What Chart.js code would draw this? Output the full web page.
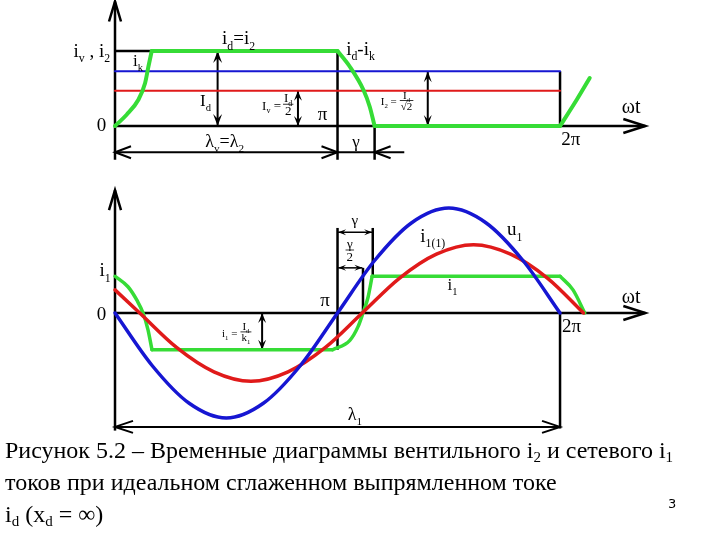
<!DOCTYPE html>
<html>
<head>
<meta charset="utf-8">
<script src="https://cdn.jsdelivr.net/npm/chart.js@4.4.1/dist/chart.umd.min.js"></script>
<style>
  body { margin: 0; background: #fff; width: 720px; height: 540px; overflow: hidden; position: relative; }
  #chart { position: absolute; left: 0; top: 0; }
  .caption { position: absolute; left: 5px; top: 434px; font-family: "Liberation Serif", serif; font-size: 24px; line-height: 32px; color: #000; white-space: nowrap; }
  .caption sub { font-size: 15px; vertical-align: -4px; line-height: 0; }
  .page { position: absolute; left: 668px; top: 496px; font-family: "DejaVu Sans", sans-serif; font-size: 13px; }
</style>
</head>
<body>
<canvas id="chart" width="720" height="540"></canvas>
<div class="caption">Рисунок 5.2 – Временные диаграммы вентильного i<sub>2</sub> и сетевого i<sub>1</sub><br>токов при идеальном сглаженном выпрямленном токе<br>i<sub>d</sub> (x<sub>d</sub> = ∞)</div>
<div class="page">3</div>
<script>
// x is the angle ωt in electrical degrees (0..360 = 0..2π)
// upper plot: values relative to Id, lower plot: relative to the amplitude of u1

// upper plot - valve current i2 (green)
const i2RiseX = [0, 9.4, 18.9, 24.3, 27, 29.7];
const i2RiseY = [0, 0.15, 0.35, 0.57, 0.79, 1.0];
const i2FallX = [180, 190, 201, 206, 210];
const i2FallY = [1.0, 0.79, 0.48, 0.26, 0];
const i2NextX = [360, 373.5, 384];
const i2NextY = [0, 0.35, 0.64];
const i2TopX = [29.7, 180];
const i2TopY = [1.0, 1.0];
const i2ZeroX = [210, 360];
const i2ZeroY = [0, 0];
// rms and average levels
const levelX = [0, 360];
const i2RmsY = [0.73, 0.73];
const ivAvgY = [0.47, 0.47];

// lower plot - supply voltage u1 (blue)
const u1X = [0, 30, 60, 90, 120, 150, 180, 210, 240, 270, 300, 330, 360];
const u1Y = [0, -0.5, -0.86, -1.0, -0.86, -0.5, 0, 0.5, 0.86, 1.0, 0.86, 0.5, 0];
// fundamental i1(1) (red)
const i11X = [0, 20, 50, 80, 110, 140, 170, 200, 230, 260, 290, 320, 350, 379];
const i11Y = [0.22, 0, -0.33, -0.56, -0.65, -0.56, -0.33, 0, 0.33, 0.56, 0.65, 0.56, 0.33, 0];
// supply current i1 (green)
const i1FallX = [0, 10.5, 17.8, 22.7, 26.7, 29.9];
const i1FallY = [0.35, 0.25, 0.12, 0, -0.16, -0.35];
const i1LowX = [29.9, 176];
const i1LowY = [-0.35, -0.35];
const i1RiseX = [176, 190, 196.6, 200.6, 204.7, 208];
const i1RiseY = [-0.35, -0.26, -0.13, 0, 0.15, 0.35];
const i1HighX = [208, 360];
const i1HighY = [0.35, 0.35];
const i1EndX = [360, 370.5, 380];
const i1EndY = [0.35, 0.22, 0];

const GREEN = '#36dc36';
const BLUE = '#1616d2';
const RED = '#e01a1a';
const FONT = '"Liberation Serif", serif';

function pts(xs, ys) {
    return xs.map((x, i) => ({ x: x, y: ys[i] }));
}

function series(xs, ys, axis, color, width, curved) {
    return {
        data: pts(xs, ys),
        yAxisID: axis,
        borderColor: color,
        borderWidth: width,
        pointRadius: 0,
        fill: false,
        clip: false,
        cubicInterpolationMode: curved ? 'monotone' : 'default',
        tension: 0,
        borderCapStyle: 'round',
        borderJoinStyle: 'round'
    };
}

// ---- drawing helpers for axes, arrows and labels ----
function at(chart, axis, x, v) {
    return [chart.scales.x.getPixelForValue(x), chart.scales[axis].getPixelForValue(v)];
}

function seg(ctx, a, b, w) {
    ctx.lineWidth = w;
    ctx.beginPath();
    ctx.moveTo(a[0], a[1]);
    ctx.lineTo(b[0], b[1]);
    ctx.stroke();
}

function openHead(ctx, tip, ang, len, half, w) {
    ctx.lineWidth = w;
    ctx.beginPath();
    ctx.moveTo(tip[0] - len * Math.cos(ang) + half * Math.sin(ang), tip[1] - len * Math.sin(ang) - half * Math.cos(ang));
    ctx.lineTo(tip[0], tip[1]);
    ctx.lineTo(tip[0] - len * Math.cos(ang) - half * Math.sin(ang), tip[1] - len * Math.sin(ang) + half * Math.cos(ang));
    ctx.stroke();
}

function solidHead(ctx, tip, ang, len, half) {
    ctx.beginPath();
    ctx.moveTo(tip[0], tip[1]);
    ctx.lineTo(tip[0] - len * Math.cos(ang) + half * Math.sin(ang), tip[1] - len * Math.sin(ang) - half * Math.cos(ang));
    ctx.lineTo(tip[0] - len * 0.6 * Math.cos(ang), tip[1] - len * 0.6 * Math.sin(ang));
    ctx.lineTo(tip[0] - len * Math.cos(ang) - half * Math.sin(ang), tip[1] - len * Math.sin(ang) + half * Math.cos(ang));
    ctx.closePath();
    ctx.fill();
}

function doubleArrow(ctx, a, b, w, len, half) {
    seg(ctx, a, b, w);
    const ang = Math.atan2(b[1] - a[1], b[0] - a[0]);
    solidHead(ctx, b, ang, len, half);
    solidHead(ctx, a, ang + Math.PI, len, half);
}

function measure(ctx, parts, size) {
    let w = 0;
    parts.forEach(p => {
        const sub = typeof p !== 'string';
        ctx.font = (sub ? size * 0.62 : size) + 'px ' + FONT;
        w += ctx.measureText(sub ? p.sub : p).width;
    });
    return w;
}

function rich(ctx, x, y, parts, size, align) {
    const w = measure(ctx, parts, size);
    let cx = align === 'right' ? x - w : align === 'center' ? x - w / 2 : x;
    ctx.textAlign = 'left';
    ctx.textBaseline = 'alphabetic';
    parts.forEach(p => {
        const sub = typeof p !== 'string';
        const text = sub ? p.sub : p;
        ctx.font = (sub ? size * 0.62 : size) + 'px ' + FONT;
        ctx.fillText(text, cx, y + (sub ? size * 0.28 : 0));
        cx += ctx.measureText(text).width;
    });
    return w;
}

function frac(ctx, x, y, num, den, size) {
    const wn = measure(ctx, num, size);
    const wd = measure(ctx, den, size);
    const w = Math.max(wn, wd) + 2;
    rich(ctx, x + w / 2, y - 2, num, size, 'center');
    rich(ctx, x + w / 2, y + size * 0.85, den, size, 'center');
    ctx.lineWidth = 0.8;
    seg(ctx, [x, y], [x + w, y], 0.8);
    return w;
}

function lbl(chart, axis, x, v, parts, size, align) {
    const p = at(chart, axis, x, v);
    chart.ctx.fillStyle = '#000';
    return rich(chart.ctx, p[0], p[1], parts, size, align || 'left');
}

function drawGuides(chart) {
    const ctx = chart.ctx;
    ctx.save();
    ctx.strokeStyle = '#000';
    ctx.fillStyle = '#000';
    ctx.lineCap = 'butt';
    const T = (x, v) => at(chart, 'yt', x, v);
    const B = (x, v) => at(chart, 'yb', x, v);

    // upper plot axes
    seg(ctx, T(0, -0.45), T(0, 1.66), 2.5);
    openHead(ctx, T(0, 1.66), -Math.PI / 2, 20, 6, 2.5);
    seg(ctx, T(0, 0), T(429, 0), 2.5);
    openHead(ctx, T(429, 0), 0, 22, 7, 2.5);
    seg(ctx, T(0, 1.0), T(30, 1.0), 2.5);
    // commutation markers
    seg(ctx, T(180, 1.0), T(180, -0.45), 2.5);
    seg(ctx, T(210, 0), T(210, -0.45), 2.5);
    seg(ctx, T(360, 0.73), T(360, 0), 2.5);
    // λv = λ2 and γ dimensions
    seg(ctx, T(0, -0.35), T(234, -0.35), 2);
    openHead(ctx, T(0, -0.35), Math.PI, 16, 6, 2);
    openHead(ctx, T(180, -0.35), 0, 16, 6, 2);
    openHead(ctx, T(210, -0.35), Math.PI, 16, 6, 2);
    // level arrows
    doubleArrow(ctx, T(83, 0.0), T(83, 1.0), 2, 12, 4.5);
    doubleArrow(ctx, T(148, 0.0), T(148, 0.47), 2, 10, 4);
    doubleArrow(ctx, T(253, 0.0), T(253, 0.73), 2, 11, 4);

    // lower plot axes
    seg(ctx, B(0, -1.12), B(0, 1.17), 2.5);
    openHead(ctx, B(0, 1.17), -Math.PI / 2, 20, 6, 2.5);
    seg(ctx, B(0, 0), B(429, 0), 2.5);
    openHead(ctx, B(429, 0), 0, 22, 7, 2.5);
    // γ and γ/2 markers
    seg(ctx, B(180, 0.81), B(180, -0.35), 2.5);
    seg(ctx, B(208.5, 0.81), B(208.5, 0.35), 2.5);
    seg(ctx, B(200.6, 0.43), B(200.6, 0), 2.5);
    doubleArrow(ctx, B(180.5, 0.77), B(208, 0.77), 1.5, 8, 3);
    doubleArrow(ctx, B(180.5, 0.43), B(200.1, 0.43), 1.5, 8, 3);
    // i1 = Id/k1
    doubleArrow(ctx, B(119, 0), B(119, -0.35), 2, 10, 4);
    // 2π and λ1
    seg(ctx, B(360, 0), B(360, -1.1), 2.5);
    seg(ctx, B(0, -1.085), B(360, -1.085), 2);
    openHead(ctx, B(0, -1.085), Math.PI, 18, 6, 2);
    openHead(ctx, B(360, -1.085), 0, 18, 6, 2);
    ctx.restore();
}

function drawLabels(chart) {
    const ctx = chart.ctx;
    ctx.save();
    ctx.fillStyle = '#000';
    ctx.strokeStyle = '#000';

    // upper plot
    lbl(chart, 'yt', -4, 0.92, ['i', { sub: 'v' }, ' , i', { sub: '2' }], 19, 'right');
    lbl(chart, 'yt', 86.6, 1.09, ['i', { sub: 'd' }, '=i', { sub: '2' }], 19);
    lbl(chart, 'yt', 14.6, 0.8, ['i', { sub: 'k' }], 17);
    lbl(chart, 'yt', 68.8, 0.27, ['I', { sub: 'd' }], 17);
    let w = lbl(chart, 'yt', 119, 0.22, ['I', { sub: 'v' }, ' ='], 13);
    let p = at(chart, 'yt', 119, 0.29);
    frac(ctx, p[0] + w + 2, p[1], ['I', { sub: 'd' }], ['2'], 13);
    lbl(chart, 'yt', 164, 0.08, ['π'], 19);
    lbl(chart, 'yt', 187, 0.95, ['i', { sub: 'd' }, '-i', { sub: 'k' }], 19);
    w = lbl(chart, 'yt', 215, 0.28, ['I', { sub: '2' }, ' ='], 11);
    p = at(chart, 'yt', 215, 0.34);
    frac(ctx, p[0] + w + 3, p[1], ['I', { sub: 'd' }], ['√2'], 11);
    lbl(chart, 'yt', 410, 0.17, ['ωt'], 20);
    lbl(chart, 'yt', 361, -0.25, ['2π'], 19);
    lbl(chart, 'yt', 73, -0.28, ['λ', { sub: 'v' }, '=λ', { sub: '2' }], 18);
    lbl(chart, 'yt', 192, -0.28, ['γ'], 17);
    lbl(chart, 'yt', -7, -0.07, ['0'], 19, 'right');

    // lower plot
    lbl(chart, 'yb', -3.5, 0.35, ['i', { sub: '1' }], 19, 'right');
    lbl(chart, 'yb', -7, -0.07, ['0'], 19, 'right');
    lbl(chart, 'yb', 166, 0.07, ['π'], 19);
    lbl(chart, 'yb', 361.6, -0.18, ['2π'], 19);
    lbl(chart, 'yb', 410, 0.1, ['ωt'], 20);
    lbl(chart, 'yb', 317, 0.74, ['u', { sub: '1' }], 19);
    lbl(chart, 'yb', 247, 0.68, ['i', { sub: '1(1)' }], 19);
    lbl(chart, 'yb', 269, 0.22, ['i', { sub: '1' }], 17);
    w = lbl(chart, 'yb', 86.6, -0.23, ['i', { sub: '1' }, ' ='], 11);
    p = at(chart, 'yb', 86.6, -0.18);
    frac(ctx, p[0] + w + 3, p[1], ['I', { sub: 'd' }], ['k', { sub: '1' }], 11);
    lbl(chart, 'yb', 194, 0.84, ['γ'], 15, 'center');
    p = at(chart, 'yb', 186.5, 0.6);
    frac(ctx, p[0], p[1], ['γ'], ['2'], 13);
    lbl(chart, 'yb', 194, -1.02, ['λ', { sub: '1' }], 18, 'center');
    ctx.restore();
}

const sketchPlugin = {
    id: 'sketch',
    beforeDatasetsDraw: drawGuides,
    afterDatasetsDraw: drawLabels
};

new Chart(document.getElementById('chart'), {
    type: 'line',
    data: {
        datasets: [
            // upper plot (first listed is drawn on top)
            series(i2RiseX, i2RiseY, 'yt', GREEN, 4, true),
            series(i2TopX, i2TopY, 'yt', GREEN, 4, false),
            series(i2FallX, i2FallY, 'yt', GREEN, 4, true),
            series(i2ZeroX, i2ZeroY, 'yt', GREEN, 4, false),
            series(i2NextX, i2NextY, 'yt', GREEN, 4, true),
            series(levelX, ivAvgY, 'yt', RED, 2, false),
            series(levelX, i2RmsY, 'yt', BLUE, 2, false),
            // lower plot
            series(u1X, u1Y, 'yb', BLUE, 3.5, true),
            series(i11X, i11Y, 'yb', RED, 3.5, true),
            series(i1FallX, i1FallY, 'yb', GREEN, 3.5, true),
            series(i1LowX, i1LowY, 'yb', GREEN, 3.5, false),
            series(i1RiseX, i1RiseY, 'yb', GREEN, 3.5, true),
            series(i1HighX, i1HighY, 'yb', GREEN, 3.5, false),
            series(i1EndX, i1EndY, 'yb', GREEN, 3.5, true)
        ]
    },
    options: {
        responsive: false,
        animation: false,
        events: [],
        layout: { padding: 0 },
        plugins: { legend: { display: false }, tooltip: { enabled: false } },
        scales: {
            x: { type: 'linear', min: -93.03, max: 489.4, display: false },
            yt: { type: 'linear', min: -5.52, max: 1.68, display: false },
            yb: { type: 'linear', min: -2.1619, max: 2.98095, display: false }
        }
    },
    plugins: [sketchPlugin]
});
</script>
</body>
</html>
